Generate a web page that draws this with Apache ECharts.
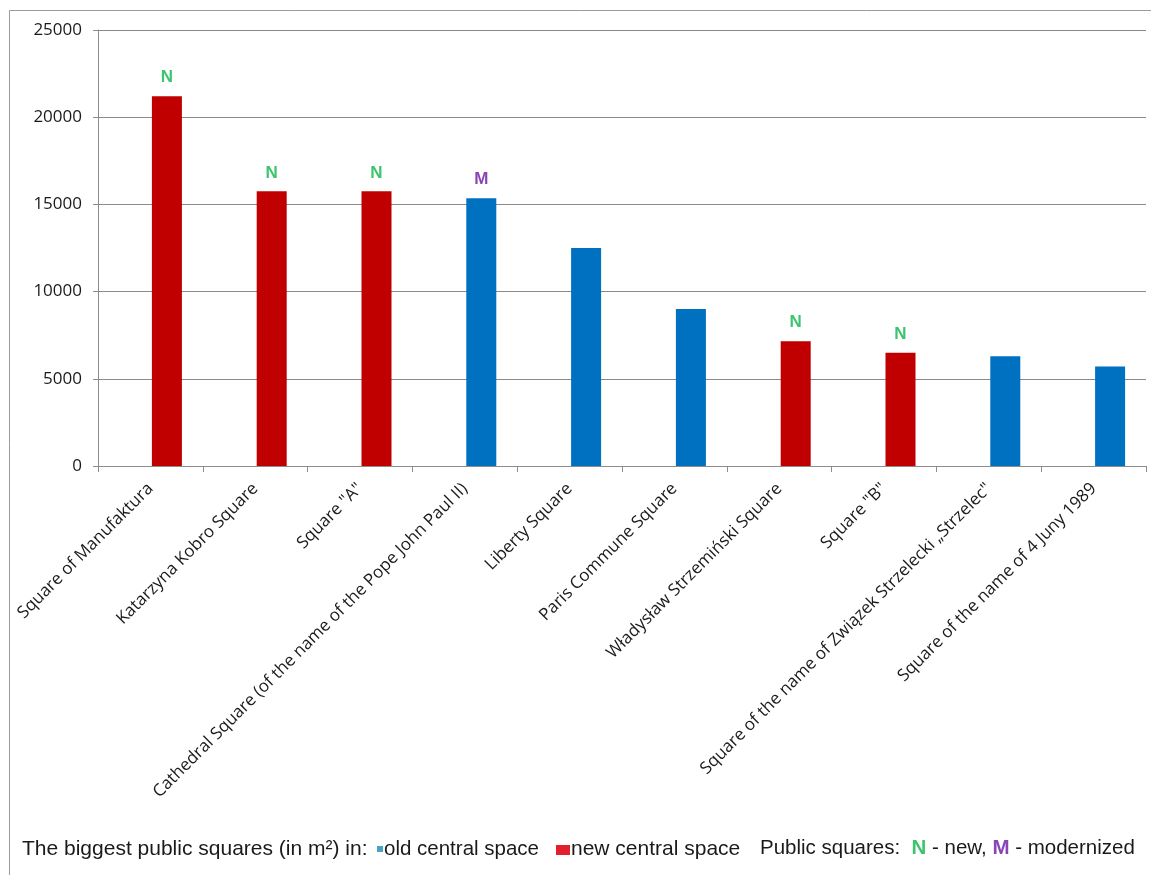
<!DOCTYPE html>
<html>
<head>
<meta charset="utf-8">
<style>
  html, body { margin: 0; padding: 0; background: #ffffff; }
  #chart { width: 1151px; height: 875px; }
</style>
<script src="https://cdn.jsdelivr.net/npm/echarts@6/dist/echarts.min.js"></script>
</head>
<body>
<div id="chart"></div>
<script>
// Largest public squares in Łódź (area in m²)
const categories = [
  'Square of Manufaktura',
  'Katarzyna Kobro Square',
  'Square "A"',
  'Cathedral Square (of the name of the Pope John Paul II)',
  'Liberty Square',
  'Paris Commune Square',
  'Władysław Strzemiński Square',
  'Square "B"',
  'Square of the name of Związek Strzelecki „Strzelec"',
  'Square of the name of 4 Juny 1989'
];
const areas = [21200, 15750, 15750, 15350, 12500, 9000, 7150, 6500, 6300, 5700];
// Which kind of central space each square lies in
const spaceType = ['new', 'new', 'new', 'old', 'old', 'old', 'new', 'new', 'old', 'old'];
// N - new, M - modernized, '' - neither
const status = ['N', 'N', 'N', 'M', '', '', 'N', 'N', '', ''];
const yTicks = [0, 5000, 10000, 15000, 20000, 25000];

const COLORS = { old: '#0070C0', new: '#C00000' };
const STATUS_COLORS = { N: '#3CC56E', M: '#8A45B5' };
const LEGEND_FONT = '21px "Liberation Sans", Arial, sans-serif';
const LEGEND_FONT_SM = '20.5px "Liberation Sans", Arial, sans-serif';
const LEGEND_BOLD = 'bold 20.5px "Liberation Sans", Arial, sans-serif';

const chart = echarts.init(document.getElementById('chart'));

const barData = areas.map((v, i) => ({
  value: v,
  itemStyle: { color: COLORS[spaceType[i]] }
}));

chart.setOption({
  animation: false,
  backgroundColor: '#ffffff',
  grid: { left: 98, top: 30, right: 5, bottom: 409, containLabel: false },
  xAxis: {
    type: 'category',
    data: categories,
    axisLine: { show: true, lineStyle: { color: '#8c8c8c', width: 1 } },
    axisTick: { show: true, length: 6, alignWithLabel: false, lineStyle: { color: '#8c8c8c' } },
    axisLabel: {
      interval: 0,
      rotate: 45,
      margin: 20,
      color: '#1a1a1a',
      fontFamily: 'Open Sans',
      fontSize: 17
    }
  },
  yAxis: {
    type: 'value',
    min: yTicks[0],
    max: yTicks[yTicks.length - 1],
    interval: yTicks[1] - yTicks[0],
    axisLine: { show: true, lineStyle: { color: '#8c8c8c', width: 1 } },
    axisTick: { show: true, length: 5, inside: false, lineStyle: { color: '#8c8c8c' } },
    splitLine: { show: true, lineStyle: { color: '#8a8a8a', width: 1 } },
    axisLabel: {
      margin: 16,
      color: '#1a1a1a',
      fontFamily: 'Open Sans',
      fontSize: 17,
      formatter: v => String(v)
    }
  },
  series: [
    {
      // empty first slot of each cluster, so the drawn bar sits right of centre
      name: 'slot',
      type: 'bar',
      silent: true,
      data: categories.map(() => null),
      barWidth: 30,
      barGap: '10%'
    },
    {
      name: 'area',
      type: 'bar',
      data: barData,
      barWidth: 30,
      barGap: '10%',
      label: {
        show: true,
        position: 'top',
        distance: 10,
        formatter: p => status[p.dataIndex] ? '{' + status[p.dataIndex] + '|' + status[p.dataIndex] + '}' : '',
        rich: {
          N: { color: STATUS_COLORS.N, fontWeight: 'bold', fontSize: 17, fontFamily: 'Liberation Sans' },
          M: { color: STATUS_COLORS.M, fontWeight: 'bold', fontSize: 17, fontFamily: 'Liberation Sans' }
        }
      }
    }
  ],
  graphic: [
    {
      type: 'rect',
      silent: true,
      shape: { x: 9.5, y: 10.5, width: 1200, height: 900 },
      style: { fill: 'none', stroke: '#9a9a9a', lineWidth: 1 }
    },
    {
      type: 'text',
      x: 22, y: 849,
      style: {
        text: 'The biggest public squares (in m²) in:',
        font: LEGEND_FONT,
        fill: '#1a1a1a',
        verticalAlign: 'middle'
      }
    },
    {
      type: 'rect',
      shape: { x: 377, y: 846, width: 6, height: 6 },
      style: { fill: '#4BA3C3' }
    },
    {
      type: 'text',
      x: 384, y: 849,
      style: {
        text: 'old central space',
        font: LEGEND_FONT_SM,
        fill: '#1a1a1a',
        verticalAlign: 'middle'
      }
    },
    {
      type: 'rect',
      shape: { x: 556, y: 845, width: 14, height: 10 },
      style: { fill: '#E2202C' }
    },
    {
      type: 'text',
      x: 571, y: 849,
      style: {
        text: 'new central space',
        font: LEGEND_FONT,
        fill: '#1a1a1a',
        verticalAlign: 'middle'
      }
    },
    {
      type: 'text',
      x: 760, y: 848,
      style: {
        text: 'Public squares:  {n|N} - new, {m|M} - modernized',
        font: LEGEND_FONT_SM,
        fill: '#1a1a1a',
        verticalAlign: 'middle',
        rich: {
          n: { fill: STATUS_COLORS.N, font: LEGEND_BOLD },
          m: { fill: STATUS_COLORS.M, font: LEGEND_BOLD }
        }
      }
    }
  ]
});
</script>
</body>
</html>
